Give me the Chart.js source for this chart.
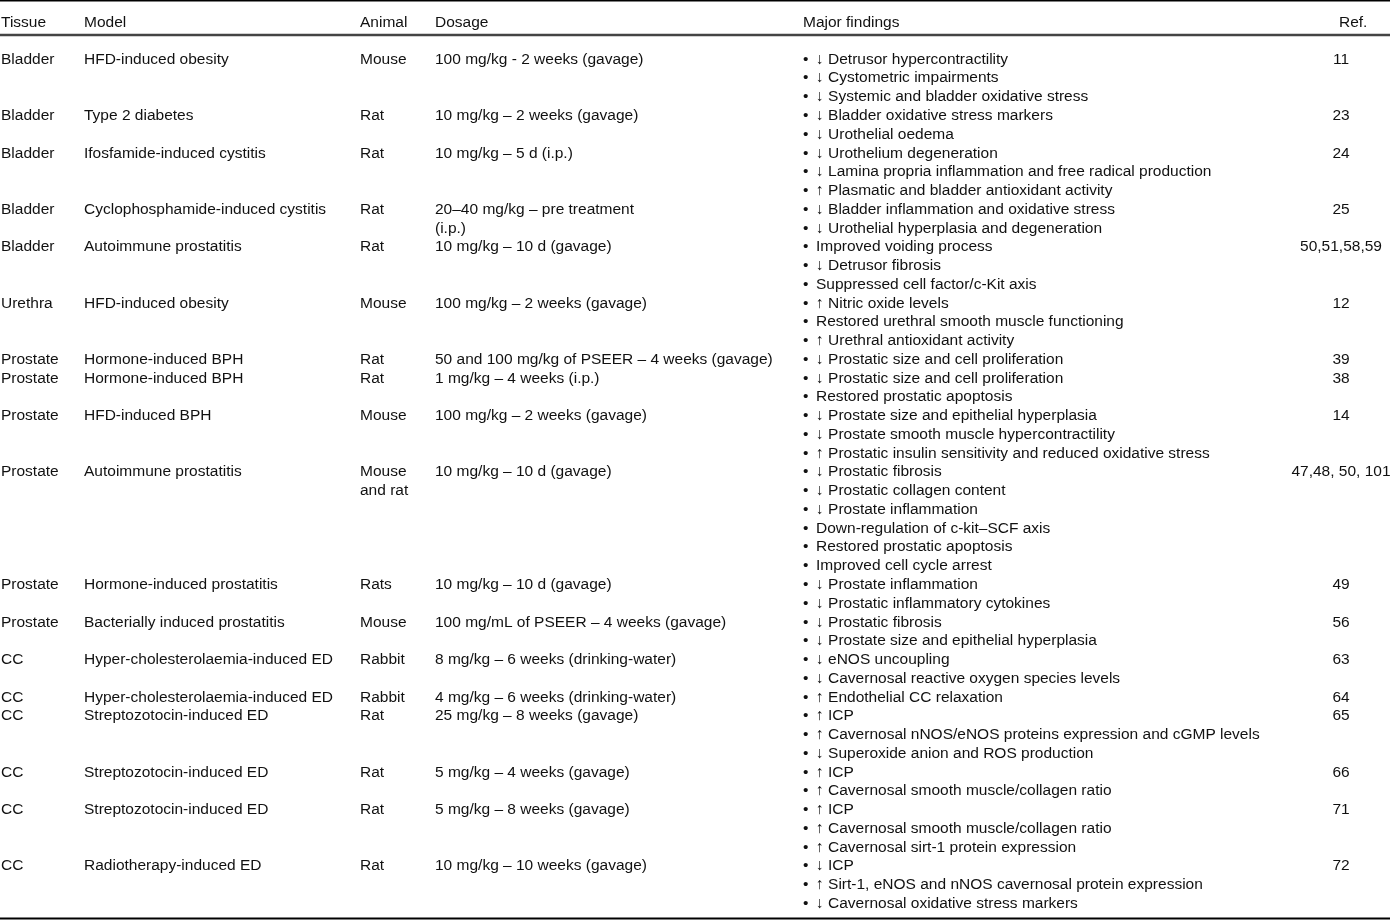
<!DOCTYPE html>
<html lang="en">
<head>
<meta charset="UTF-8">
<title>Table</title>
<script src="https://cdn.jsdelivr.net/npm/chart.js@4.4.1/dist/chart.umd.min.js"></script>
<style>
    html, body { margin: 0; padding: 0; background: #fff; }
    canvas { display: block; }
</style>
</head>
<body>
<canvas id="tabela" width="1390" height="920"></canvas>
<script>
    // column headers
    var headers = ['Tissue', 'Model', 'Animal', 'Dosage', 'Major findings', 'Ref.']

    // one entry per table row
    var tissues = ['Bladder', 'Bladder', 'Bladder', 'Bladder', 'Bladder', 'Urethra', 'Prostate', 'Prostate', 'Prostate',
        'Prostate', 'Prostate', 'Prostate', 'CC', 'CC', 'CC', 'CC', 'CC', 'CC']

    var models = ['HFD-induced obesity', 'Type 2 diabetes', 'Ifosfamide-induced cystitis', 'Cyclophosphamide-induced cystitis',
        'Autoimmune prostatitis', 'HFD-induced obesity', 'Hormone-induced BPH', 'Hormone-induced BPH', 'HFD-induced BPH',
        'Autoimmune prostatitis', 'Hormone-induced prostatitis', 'Bacterially induced prostatitis',
        'Hyper-cholesterolaemia-induced ED', 'Hyper-cholesterolaemia-induced ED', 'Streptozotocin-induced ED',
        'Streptozotocin-induced ED', 'Streptozotocin-induced ED', 'Radiotherapy-induced ED']

    var animals = ['Mouse', 'Rat', 'Rat', 'Rat', 'Rat', 'Mouse', 'Rat', 'Rat', 'Mouse', 'Mouse\nand rat', 'Rats', 'Mouse',
        'Rabbit', 'Rabbit', 'Rat', 'Rat', 'Rat', 'Rat']

    var dosages = ['100 mg/kg - 2 weeks (gavage)', '10 mg/kg – 2 weeks (gavage)', '10 mg/kg – 5 d (i.p.)',
        '20–40 mg/kg – pre treatment\n(i.p.)', '10 mg/kg – 10 d (gavage)', '100 mg/kg – 2 weeks (gavage)',
        '50 and 100 mg/kg of PSEER – 4 weeks (gavage)', '1 mg/kg – 4 weeks (i.p.)', '100 mg/kg – 2 weeks (gavage)',
        '10 mg/kg – 10 d (gavage)', '10 mg/kg – 10 d (gavage)', '100 mg/mL of PSEER – 4 weeks (gavage)',
        '8 mg/kg – 6 weeks (drinking-water)', '4 mg/kg – 6 weeks (drinking-water)', '25 mg/kg – 8 weeks (gavage)',
        '5 mg/kg – 4 weeks (gavage)', '5 mg/kg – 8 weeks (gavage)', '10 mg/kg – 10 weeks (gavage)']

    var findings = [
        ['↓ Detrusor hypercontractility', '↓ Cystometric impairments', '↓ Systemic and bladder oxidative stress'],
        ['↓ Bladder oxidative stress markers', '↓ Urothelial oedema'],
        ['↓ Urothelium degeneration', '↓ Lamina propria inflammation and free radical production', '↑ Plasmatic and bladder antioxidant activity'],
        ['↓ Bladder inflammation and oxidative stress', '↓ Urothelial hyperplasia and degeneration'],
        ['Improved voiding process', '↓ Detrusor fibrosis', 'Suppressed cell factor/c-Kit axis'],
        ['↑ Nitric oxide levels', 'Restored urethral smooth muscle functioning', '↑ Urethral antioxidant activity'],
        ['↓ Prostatic size and cell proliferation'],
        ['↓ Prostatic size and cell proliferation', 'Restored prostatic apoptosis'],
        ['↓ Prostate size and epithelial hyperplasia', '↓ Prostate smooth muscle hypercontractility', '↑ Prostatic insulin sensitivity and reduced oxidative stress'],
        ['↓ Prostatic fibrosis', '↓ Prostatic collagen content', '↓ Prostate inflammation', 'Down-regulation of c-kit–SCF axis', 'Restored prostatic apoptosis', 'Improved cell cycle arrest'],
        ['↓ Prostate inflammation', '↓ Prostatic inflammatory cytokines'],
        ['↓ Prostatic fibrosis', '↓ Prostate size and epithelial hyperplasia'],
        ['↓ eNOS uncoupling', '↓ Cavernosal reactive oxygen species levels'],
        ['↑ Endothelial CC relaxation'],
        ['↑ ICP', '↑ Cavernosal nNOS/eNOS proteins expression and cGMP levels', '↓ Superoxide anion and ROS production'],
        ['↑ ICP', '↑ Cavernosal smooth muscle/collagen ratio'],
        ['↑ ICP', '↑ Cavernosal smooth muscle/collagen ratio', '↑ Cavernosal sirt-1 protein expression'],
        ['↓ ICP', '↑ Sirt-1, eNOS and nNOS cavernosal protein expression', '↓ Cavernosal oxidative stress markers']
    ]

    var refs = ['11', '23', '24', '25', '50,51,58,59', '12', '39', '38', '14', '47,48, 50, 101', '49', '56', '63', '64',
        '65', '66', '71', '72']

    // layout: left edge of each column (px) and line positions (in text lines)
    var colX = { tissue: 1, model: 84, animal: 360, dosage: 435, bullet: 803, finding: 816, ref: 1341 }
    var headerX = [1, 84, 360, 435, 803, 1339]
    var headerLine = -1.93
    var lineH = 18.76
    var firstBaseline = 63.7
    var yMin = -firstBaseline / lineH
    var yMax = yMin + 920 / lineH

    // row start = running count of finding lines
    var rowStart = []
    var acc = 0
    findings.forEach(function (f) {
        rowStart.push(acc)
        acc += f.length
    })

    function cells(values, x) {
        var out = []
        values.forEach(function (v, r) {
            v.split('\n').forEach(function (part, k) {
                out.push({ x: x, y: rowStart[r] + k, text: part })
            })
        })
        return out
    }

    var bulletPts = []
    var findingPts = []
    findings.forEach(function (f, r) {
        f.forEach(function (txt, k) {
            bulletPts.push({ x: colX.bullet, y: rowStart[r] + k, text: '•' })
            findingPts.push({ x: colX.finding, y: rowStart[r] + k, text: txt })
        })
    })

    var headerPts = headers.map(function (h, i) {
        return { x: headerX[i], y: headerLine, text: h }
    })

    function textSet(data, align) {
        return { data: data, align: align || 'left', pointRadius: 0, showLine: false }
    }

    function rule(y, color, width) {
        return {
            rule: true, data: [{ x: 0, y: y }, { x: 1390, y: y }], showLine: true,
            borderColor: color, borderWidth: width, pointRadius: 0
        }
    }

    const cellText = {
        id: 'cellText',
        afterDatasetsDraw(chart) {
            const ctx = chart.ctx
            ctx.save()
            ctx.font = '15.5px "Liberation Sans", Arial, sans-serif'
            ctx.fillStyle = '#111'
            ctx.textBaseline = 'alphabetic'
            chart.data.datasets.forEach(function (ds, i) {
                if (ds.rule) return
                ctx.textAlign = ds.align
                chart.getDatasetMeta(i).data.forEach(function (pt, j) {
                    ctx.fillText(ds.data[j].text, pt.x, pt.y)
                })
            })
            ctx.restore()
        }
    }

    const tabela = new Chart(document.getElementById('tabela'), {
        type: 'scatter',
        data: {
            datasets: [
                rule(-3.37, '#000', 2),
                rule(-1.53, '#444', 2.5),
                rule(45.57, '#000', 2),
                textSet(headerPts),
                textSet(cells(tissues, colX.tissue)),
                textSet(cells(models, colX.model)),
                textSet(cells(animals, colX.animal)),
                textSet(cells(dosages, colX.dosage)),
                textSet(bulletPts),
                textSet(findingPts),
                textSet(cells(refs, colX.ref), 'center')
            ]
        },
        options: {
            responsive: false,
            animation: false,
            devicePixelRatio: 1,
            layout: { padding: 0 },
            plugins: { legend: { display: false }, tooltip: { enabled: false } },
            scales: {
                x: { type: 'linear', min: 0, max: 1390, display: false },
                y: { type: 'linear', min: yMin, max: yMax, reverse: true, display: false }
            },
            elements: { line: { tension: 0 } },
            clip: false
        },
        plugins: [cellText]
    })
</script>
</body>
</html>
